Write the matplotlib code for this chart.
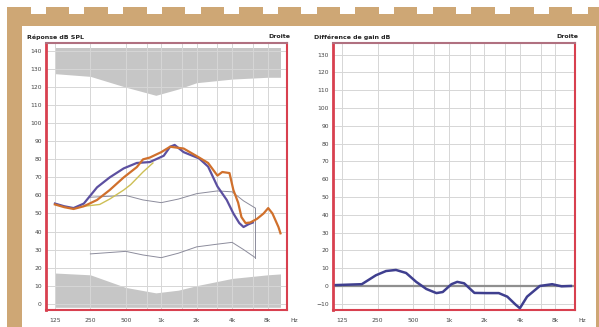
import numpy as np
import matplotlib
matplotlib.use("Agg")
import matplotlib.pyplot as plt
from matplotlib.patches import Rectangle

W, H = 599, 327
TAN = "#cea775"
FRAME = "#d8404f"

# audiometric frequencies used for ticks and grid
tick_freqs = [125, 250, 500, 1000, 2000, 4000, 8000]
tick_labels = ["125", "250", "500", "1k", "2k", "4k", "8k"]
grid_freqs = [125, 250, 500, 750, 1000, 1500, 2000, 3000, 4000, 6000, 8000]

# response curves (dB SPL)
f_violet = [125, 150, 180, 220, 285, 365, 480, 620, 800, 1050, 1190, 1300, 1550,
            2100, 2500, 3000, 3600, 4100, 4600, 5000, 5500, 6000]
r_violet = [55.5, 54, 53, 55.5, 64.5, 70, 75, 78, 78.5, 82, 87, 88, 84,
            80.5, 76, 65, 57.5, 50, 44.7, 42.5, 44, 45]

f_orange = [125, 150, 180, 220, 285, 365, 480, 620, 700, 800, 1000, 1190, 1550,
            2100, 2500, 3000, 3300, 3800, 4100, 4500, 4800, 5200, 5700, 6500,
            7400, 8100, 8800, 9900, 10300]
r_orange = [55, 53.5, 52.5, 54, 57.5, 63, 70, 75.7, 80, 81, 84, 87, 86,
            81, 78, 71, 73, 72.4, 63, 56, 48, 44.7, 45, 47,
            50, 53, 50, 42.5, 39]

f_yellow = [220, 300, 365, 480, 550, 700, 850]
r_yellow = [54, 55, 58, 63, 66, 73, 78]

# target range limits
f_target = [250, 500, 700, 1000, 1400, 2000, 3000, 4000, 5000, 6300]
t_upper = [59, 60, 57.5, 56, 58, 61, 62.5, 62, 57, 53]
t_lower = [27.6, 29, 27, 25.5, 28, 31.5, 33, 34, 30, 25.5]

# grey limit zones
f_zone = [125, 250, 500, 900, 1400, 2000, 4000, 8000, 10300]
zone_top = [127.5, 126, 120, 115.5, 119, 122.5, 124.5, 125.5, 125.5]
zone_bottom = [17, 16, 9, 6, 7.5, 10, 14, 16, 16.5]

# gain difference (dB)
f_diff = [111, 184, 242, 295, 358, 436, 531, 647, 787, 890, 1055, 1180, 1350,
          1650, 2070, 2650, 3130, 3680, 4000, 4600, 5900, 7500, 9000, 10800]
g_diff = [0.5, 1, 6, 8.4, 9, 7.3, 2.3, -1.7, -4, -3.4, 1, 2.3, 1.5,
          -3.9, -4, -4, -6, -10.5, -12.5, -6, 0, 1, -0.2, 0]

fig = plt.figure(figsize=(W / 100, H / 100), dpi=100)
fig.patch.set_facecolor("white")


def px_rect(x0, y0, x1, y1, **kw):
    # rectangle given in pixel coords, y measured from the top
    fig.patches.append(Rectangle((x0 / W, 1 - y1 / H), (x1 - x0) / W, (y1 - y0) / H,
                                 transform=fig.transFigure, figure=fig, **kw))


# tan border with perforated top edge
x = 7.0
while x < W:
    px_rect(x, 7, min(x + 23.5, W), 14, color=TAN, lw=0)
    x += 38.7
px_rect(7, 14, W, 26, color=TAN, lw=0)
px_rect(7, 14, 22, H, color=TAN, lw=0)
px_rect(596, 14, W, H, color=TAN, lw=0)


def make_axes(x0, x1, ylim, yticks, title):
    ax = fig.add_axes([x0 / W, (H - 310) / H, (x1 - x0) / W, 267 / H])
    ax.set_xscale("log")
    ax.set_xlim(105, 11700)
    ax.set_ylim(*ylim)
    ax.set_xticks(tick_freqs)
    ax.set_xticklabels(tick_labels)
    ax.xaxis.set_minor_locator(matplotlib.ticker.NullLocator())
    ax.set_yticks(yticks)
    ax.tick_params(length=0, labelsize=4.3, colors="#444444", pad=3)
    ax.tick_params(axis="x", pad=6)
    for f in grid_freqs:
        ax.axvline(f, color="#d6d6d6", lw=0.7, zorder=1.5)
    for v in yticks:
        ax.axhline(v, color="#d6d6d6", lw=0.7, zorder=1.5)
    for side in ["left", "bottom", "right"]:
        ax.spines[side].set_color(FRAME)
        ax.spines[side].set_linewidth(1.5)
    ax.spines["top"].set_color("#b07080")
    ax.spines["top"].set_linewidth(1.5)
    ax.spines["left"].set_linewidth(2)
    fig.text((x0 - 19) / W, 1 - 37 / H, title, fontsize=4.5, fontweight="bold",
             color="#222222", va="center", ha="left")
    fig.text((x1 + 3) / W, 1 - 37 / H, "Droite", fontsize=4.5, fontweight="bold",
             color="#222222", va="center", ha="right")
    fig.text((x1 + 3) / W, 1 - 321 / H, "Hz", fontsize=4.3, color="#444444",
             va="center", ha="left")
    return ax


# left: response in dB SPL
ax1 = make_axes(46, 287, (-3.5, 144.5), list(range(0, 141, 10)), "Réponse dB SPL")
ax1.fill_between(f_zone, zone_top, 142, color="#c6c6c6", lw=0, zorder=1)
ax1.fill_between(f_zone, -2, zone_bottom, color="#c6c6c6", lw=0, zorder=1)
ax1.plot(f_target, t_upper, color="#8c8c9c", lw=0.7, zorder=2)
ax1.plot(f_target, t_lower, color="#8c8c9c", lw=0.7, zorder=2)
ax1.plot([f_target[-1], f_target[-1]], [t_upper[-1], t_lower[-1]],
         color="#8c8c9c", lw=0.7, zorder=2)
ax1.plot(f_yellow, r_yellow, color="#cdbf55", lw=1.0, zorder=3)
ax1.plot(f_violet, r_violet, color="#5c50a0", lw=1.6, zorder=4)
ax1.plot(f_orange, r_orange, color="#d0702c", lw=1.6, zorder=5)

# right: gain difference
ax2 = make_axes(333, 575, (-13.5, 136.5), list(range(-10, 131, 10)),
                "Différence de gain dB")
ax2.axhline(0, color="#8f8f8f", lw=1.6, zorder=2)
ax2.plot(f_diff, g_diff, color="#3f3f8f", lw=1.8, zorder=4)

fig.savefig("out.png", dpi=100, facecolor=fig.get_facecolor())
